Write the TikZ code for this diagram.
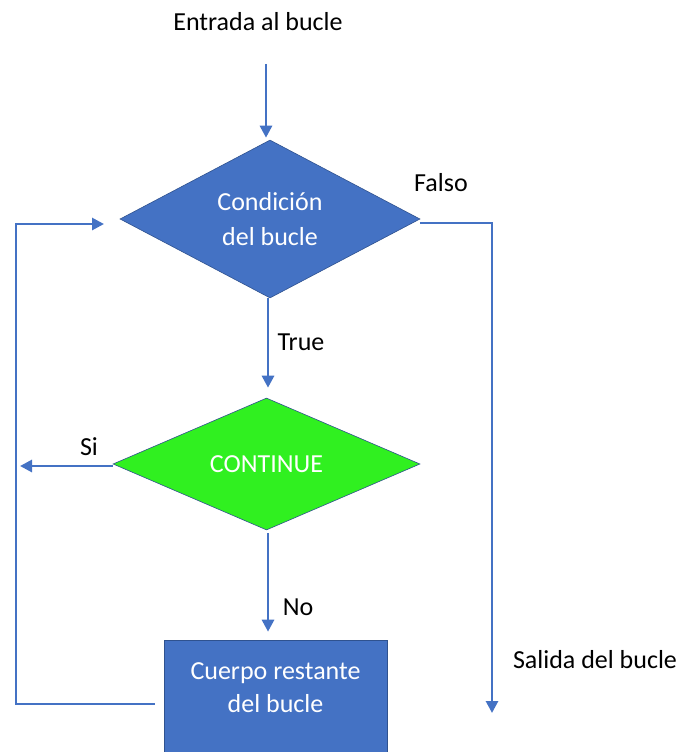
\documentclass[tikz,border=0pt]{standalone}
\usepackage{fontspec}
\setmainfont{Carlito}
\usetikzlibrary{shapes.geometric,arrows.meta}
\definecolor{obl}{HTML}{4472C4}
\definecolor{obd}{HTML}{2F528F}
\definecolor{gfill}{HTML}{30F020}
\tikzset{
  conn/.style={draw=obl, line width=2.8pt},
  arr/.style={conn, -{Triangle[length=12pt,width=12pt]}},
  dia/.style={diamond, draw=obd, line width=0.6pt, inner sep=0pt, text=white,
    align=center, font=\fontsize{26}{35}\selectfont},
  body/.style={rectangle, fill=obl, draw=obd, line width=0.6pt, inner sep=0pt, text=white,
    align=center, font=\fontsize{26}{33}\selectfont},
  lab/.style={font=\fontsize{26}{30}\selectfont, text=black, inner sep=0pt},
}
\begin{document}
\begin{tikzpicture}[x=1pt,y=-1pt]
\useasboundingbox (0,0) rectangle (678,752);
\node[lab] (entrada) at (258,22) {Entrada al bucle};
\node[dia, fill=obl, minimum width=300pt, minimum height=158pt, aspect=1.9] (cond) at (270,219) {Condición\\del bucle};
\node[dia, fill=gfill, minimum width=307pt, minimum height=132pt, aspect=2.3] (cont) at (266.5,464) {CONTINUE};
\node[body, minimum width=223pt, minimum height=112pt, text depth=16pt] (cuerpo) at (275.5,696) {Cuerpo restante\\del bucle};
\node[lab] (falso) at (441,183) {Falso};
\node[lab] (true) at (301,342) {True};
\node[lab] (si) at (89,447) {Si};
\node[lab] (no) at (298,607) {No};
\node[lab] (salida) at (595,660) {Salida del bucle};
\coordinate (entrystart) at (266,64);
\coordinate (exitend) at (492,713);
\coordinate (leftx) at (16,0);
\coordinate (siend) at (20,0);
\coordinate (midx) at (268,0);
\coordinate (loopend) at (104,224);
\draw[arr, shorten >=2pt] (entrystart) -- (entrystart |- cond.north);
\draw[arr] ([yshift=-4pt]cond.east) -| (exitend);
\draw[arr, shorten >=10pt] (midx |- cond.south) -- (midx |- cont.north);
\draw[arr] ([yshift=-2pt]cont.west) -- ([yshift=-2pt]cont.west -| siend);
\draw[arr, shorten <=3pt, shorten >=8pt] (midx |- cont.south) -- (midx |- cuerpo.north);
\draw[arr] ([shift={(-9pt,-8pt)}]cuerpo.west) -| (leftx |- loopend) -- (loopend);
\end{tikzpicture}
\end{document}
